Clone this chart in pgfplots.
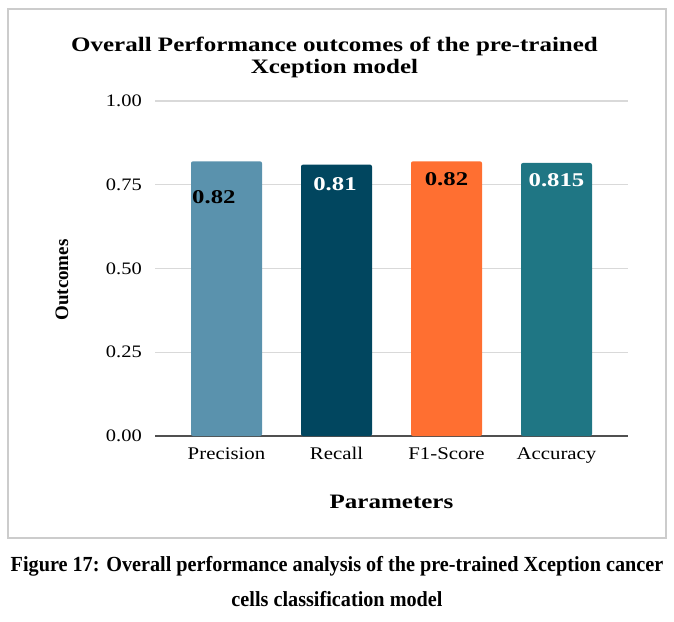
\documentclass[border=0pt]{standalone}
\usepackage{fontspec}
\setmainfont{Liberation Serif}
\newfontfamily\tickfont{Liberation Serif}[FakeStretch=1.17]
\newfontfamily\titlefont{Liberation Serif}[FakeStretch=1.22]
\newfontfamily\labfont{Liberation Serif}[FakeStretch=1.27]
\newfontfamily\capfont{Liberation Serif}[FakeStretch=0.94]
\usepackage{pgfplots}
\pgfplotsset{compat=1.18}
\definecolor{cprec}{HTML}{5A92AD}
\definecolor{crec}{HTML}{01465F}
\definecolor{cf1}{HTML}{FF6F31}
\definecolor{cacc}{HTML}{1F7684}
\definecolor{gridgray}{HTML}{D9D9D9}
\definecolor{axgray}{HTML}{505050}
\definecolor{framegray}{HTML}{CCCCCC}
\begin{document}
\begin{tikzpicture}[x=1pt,y=1pt]
\path[use as bounding box] (0,0) rectangle (674,621);
\draw[framegray, line width=2pt] (8,83) rectangle (666,612);
% title
\node[anchor=base, inner sep=0pt, font=\titlefont\bfseries\fontsize{20.5}{22}\selectfont] at (334.5,569.5) {Overall Performance outcomes of the pre-trained};
\node[anchor=base, inner sep=0pt, font=\titlefont\bfseries\fontsize{20.5}{22}\selectfont] at (334.5,547.5) {Xception model};
\begin{axis}[
  at={(155pt,185pt)}, anchor=south west,
  scale only axis, width=473pt, height=335pt,
  xmin=-0.65, xmax=3.65, ymin=0, ymax=1,
  xtick={0,1,2,3},
  xticklabels={Precision,Recall,F1-Score,Accuracy},
  ytick={0,0.25,0.5,0.75,1},
  /pgf/number format/assume math mode=true,
  yticklabel style={/pgf/number format/fixed, /pgf/number format/fixed zerofill, /pgf/number format/precision=2,
    anchor=east, inner sep=0pt, xshift=-13pt, font=\tickfont\fontsize{17.5}{19}\selectfont},
  xticklabel style={anchor=base, inner sep=0pt, yshift=-23.3pt, font=\tickfont\fontsize{17.8}{19}\selectfont},
  major tick length=0pt,
  axis x line*=bottom, axis y line*=left,
  y axis line style={draw=none},
  x axis line style={draw=axgray, line width=1.5pt, -},
  ymajorgrids, grid style={draw=gridgray, line width=1.2pt},
  xlabel={Parameters},
  xlabel style={at={(axis description cs:0.5,-0.2158)}, anchor=base, inner sep=0pt, font=\titlefont\bfseries\fontsize{20.5}{22}\selectfont},
  ylabel={Outcomes},
  ylabel style={at={(axis description cs:-0.1966,0.4657)}, anchor=center, inner sep=0pt, font=\bfseries\fontsize{19}{21}\selectfont},
  clip=false,
]
\addplot[ybar, bar width=71pt, bar shift=0pt, fill=cprec, draw=none, rounded corners=2pt] coordinates {(0,0.82)};
\addplot[ybar, bar width=71pt, bar shift=0pt, fill=crec, draw=none, rounded corners=2pt] coordinates {(1,0.81)};
\addplot[ybar, bar width=71pt, bar shift=0pt, fill=cf1, draw=none, rounded corners=2pt] coordinates {(2,0.82)};
\addplot[ybar, bar width=71pt, bar shift=0pt, fill=cacc, draw=none, rounded corners=2pt] coordinates {(3,0.815)};
\node[anchor=base west, inner sep=0pt, text=black, font=\labfont\bfseries\fontsize{19.5}{21}\selectfont] at (axis cs:-0.3136,0.6955) {0.82};
\node[anchor=base, inner sep=0pt, text=white, font=\labfont\bfseries\fontsize{19.5}{21}\selectfont] at (axis cs:0.9864,0.7343) {0.81};
\node[anchor=base, inner sep=0pt, text=black, font=\labfont\bfseries\fontsize{19.5}{21}\selectfont] at (axis cs:2.0,0.7472) {0.82};
\node[anchor=base, inner sep=0pt, text=white, font=\labfont\bfseries\fontsize{19.5}{21}\selectfont] at (axis cs:3.0,0.7442) {0.815};
\end{axis}
% caption
\node[anchor=base, inner sep=0pt, font=\capfont\bfseries\fontsize{21.5}{24}\selectfont] at (337,50) {Figure 17: Overall performance analysis of the pre-trained Xception cancer};
\node[anchor=base, inner sep=0pt, font=\capfont\bfseries\fontsize{21.5}{24}\selectfont] at (337,14.3) {cells classification model};
\end{tikzpicture}
\end{document}
